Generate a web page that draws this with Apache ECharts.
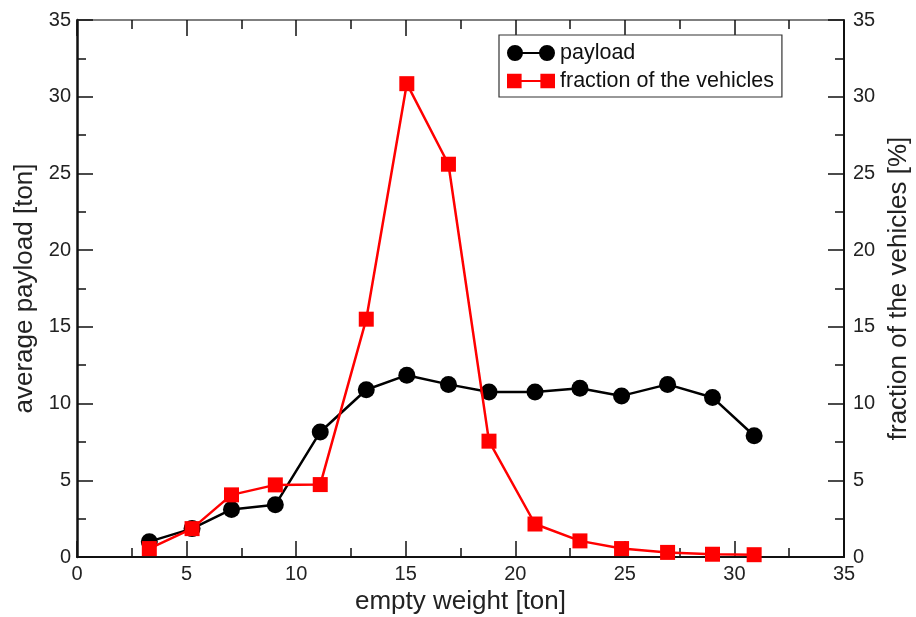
<!DOCTYPE html>
<html>
<head>
<meta charset="utf-8">
<title>payload vs empty weight</title>
<script src="https://cdn.jsdelivr.net/npm/echarts@6/dist/echarts.min.js"></script>
<style>
  html, body { margin: 0; padding: 0; background: #fff; }
  #chart { width: 916px; height: 617px; }
</style>
</head>
<body>
<div id="chart"></div>
<script>
// empty weight bins [ton]
const emptyWeight = [3.3, 5.25, 7.05, 9.05, 11.1, 13.2, 15.05, 16.95, 18.8, 20.9, 22.95, 24.85, 26.95, 29.0, 30.9]
// average payload [ton]
const avgPayload = [1.0, 1.85, 3.1, 3.4, 8.15, 10.9, 11.85, 11.25, 10.75, 10.75, 11.0, 10.5, 11.25, 10.4, 7.9]
// fraction of the vehicles [%]
const vehicleFraction = [0.55, 1.85, 4.05, 4.7, 4.72, 15.5, 30.85, 25.6, 7.55, 2.15, 1.05, 0.55, 0.3, 0.18, 0.15]
const axisTicks = { min: 0, max: 35, interval: 5 }

const fontFamily = '"Liberation Sans", Arial, Helvetica, sans-serif'

// legend icons: two markers joined by a line
const circleIcon = 'path://M0,8 A8,8 0 1,1 16,8 A8,8 0 1,1 0,8 Z M15,7 L33,7 L33,9 L15,9 Z M32,8 A8,8 0 1,1 48,8 A8,8 0 1,1 32,8 Z'
const squareIcon = 'path://M1,1 L15,1 L15,15 L1,15 Z M15,7 L33,7 L33,9 L15,9 Z M33,1 L47,1 L47,15 L33,15 Z'

function pairs(xs, ys) {
  return xs.map(function (x, i) {
    return [x, ys[i]]
  })
}

const chart = echarts.init(document.getElementById('chart'))

const tickStyle = {
  inside: true,
  length: 16,
  lineStyle: { color: '#111', width: 1.5 },
}
const minorStyle = {
  show: true,
  splitNumber: 2,
  length: 9,
  lineStyle: { color: '#111', width: 1.5 },
}
const labelStyle = {
  color: '#222',
  fontSize: 20,
  fontFamily: fontFamily,
}
const nameStyle = {
  color: '#222',
  fontSize: 26,
  fontFamily: fontFamily,
}

const option = {
  animation: false,
  backgroundColor: '#fff',
  grid: {
    left: 77,
    right: 72,
    top: 20,
    bottom: 60,
    containLabel: false,
    outerBoundsMode: 'none',
  },
  legend: {
    orient: 'vertical',
    left: 499,
    top: 35,
    padding: [7, 8, 5, 8],
    itemGap: 6,
    itemWidth: 48,
    itemHeight: 16,
    borderColor: '#333',
    borderWidth: 1.2,
    borderRadius: 0,
    backgroundColor: '#fff',
    textStyle: { color: '#111', fontSize: 21.5, fontFamily: fontFamily },
    data: [
      { name: 'payload', icon: circleIcon },
      { name: 'fraction of the vehicles', icon: squareIcon },
    ],
  },
  xAxis: [
    {
      type: 'value',
      position: 'bottom',
      min: axisTicks.min,
      max: axisTicks.max,
      interval: axisTicks.interval,
      name: 'empty weight [ton]',
      nameLocation: 'middle',
      nameGap: 27,
      nameTextStyle: nameStyle,
      axisLine: { onZero: false, lineStyle: { color: '#111', width: 2 } },
      axisTick: tickStyle,
      minorTick: minorStyle,
      axisLabel: Object.assign({ margin: 7 }, labelStyle),
      splitLine: { show: false },
    },
    {
      type: 'value',
      position: 'top',
      min: axisTicks.min,
      max: axisTicks.max,
      interval: axisTicks.interval,
      axisLine: { onZero: false, lineStyle: { color: '#555', width: 1.5 } },
      axisTick: tickStyle,
      minorTick: minorStyle,
      axisLabel: { show: false },
      splitLine: { show: false },
    },
  ],
  yAxis: [
    {
      type: 'value',
      position: 'left',
      min: axisTicks.min,
      max: axisTicks.max,
      interval: axisTicks.interval,
      name: 'average payload [ton]',
      nameLocation: 'middle',
      nameRotate: 90,
      nameGap: 37,
      nameTextStyle: nameStyle,
      axisLine: { show: true, onZero: false, lineStyle: { color: '#111', width: 2.5 } },
      axisTick: tickStyle,
      minorTick: minorStyle,
      axisLabel: Object.assign({ margin: 6 }, labelStyle),
      splitLine: { show: false },
    },
    {
      type: 'value',
      position: 'right',
      min: axisTicks.min,
      max: axisTicks.max,
      interval: axisTicks.interval,
      name: 'fraction of the vehicles [%]',
      nameLocation: 'middle',
      nameRotate: 90,
      nameGap: 34,
      nameTextStyle: nameStyle,
      axisLine: { show: true, onZero: false, lineStyle: { color: '#111', width: 2 } },
      axisTick: tickStyle,
      minorTick: minorStyle,
      axisLabel: Object.assign({ margin: 9 }, labelStyle),
      splitLine: { show: false },
    },
  ],
  series: [
    {
      name: 'payload',
      type: 'line',
      xAxisIndex: 0,
      yAxisIndex: 0,
      z: 2,
      data: pairs(emptyWeight, avgPayload),
      symbol: 'circle',
      symbolSize: 17,
      showAllSymbol: true,
      itemStyle: { color: '#000' },
      lineStyle: { color: '#000', width: 2.5 },
    },
    {
      name: 'fraction of the vehicles',
      type: 'line',
      xAxisIndex: 0,
      yAxisIndex: 1,
      z: 3,
      data: pairs(emptyWeight, vehicleFraction),
      symbol: 'rect',
      symbolSize: 15,
      showAllSymbol: true,
      itemStyle: { color: '#ff0000' },
      lineStyle: { color: '#ff0000', width: 2.5 },
    },
  ],
}

chart.setOption(option)
</script>
</body>
</html>
